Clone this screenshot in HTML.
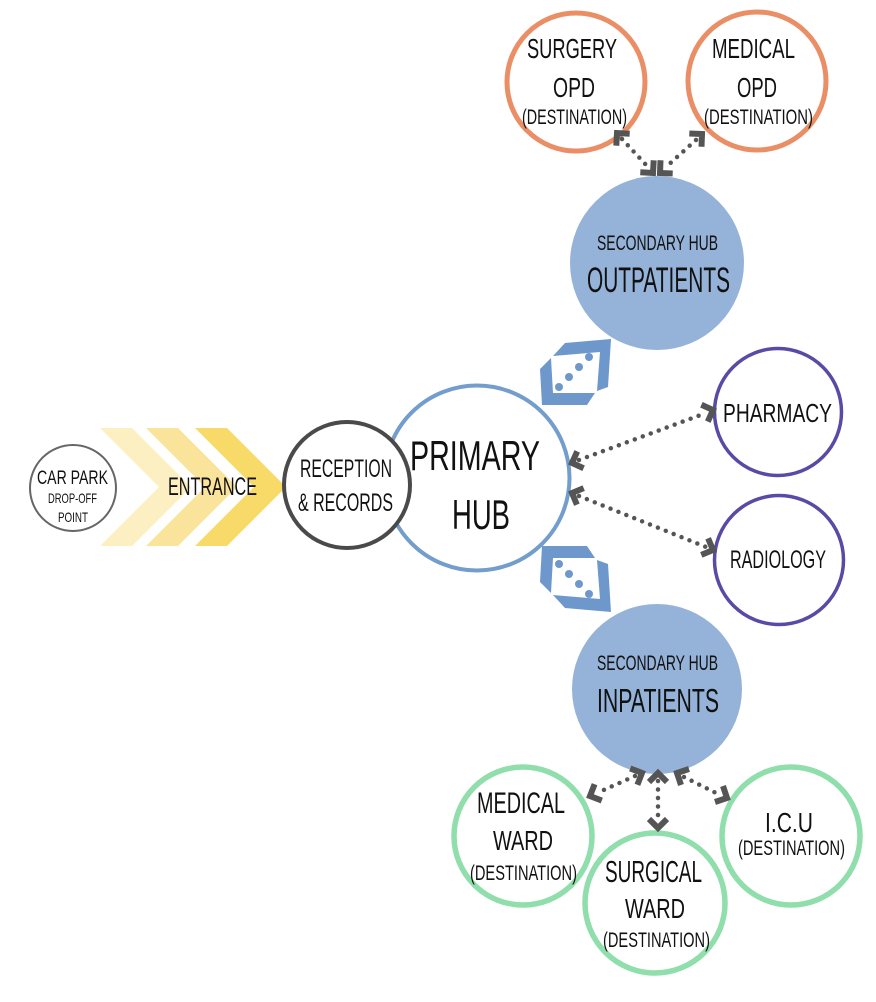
<!DOCTYPE html>
<html>
<head>
<meta charset="utf-8">
<style>
html,body{margin:0;padding:0;background:#fff;}
svg{display:block;}
text{font-family:"Liberation Sans Narrow","Liberation Sans",sans-serif;fill:#111;text-anchor:middle;}
</style>
</head>
<body>
<svg width="876" height="1002" viewBox="0 0 876 1002" xmlns="http://www.w3.org/2000/svg">
  <rect width="876" height="1002" fill="#fff"/>

  <!-- Entrance chevrons -->
  <polygon points="100,428 132,428 191,487 132,546 100,546 159,487" fill="#FCF0C2"/>
  <polygon points="146,428 178,428 237,487 178,546 146,546 205,487" fill="#FAE49C"/>
  <polygon points="195,428 227,428 286,487 227,546 195,546 254,487" fill="#F8DA69"/>

  <!-- Car park -->
  <circle cx="73" cy="488" r="43" fill="#fff" stroke="#666" stroke-width="2"/>

  <!-- Secondary hubs -->
  <circle cx="657" cy="263" r="87" fill="#95B3D8"/>
  <circle cx="657" cy="689" r="85" fill="#95B3D8"/>

  <!-- Primary hub -->
  <circle cx="477" cy="478" r="92.5" fill="#fff" stroke="#729DCC" stroke-width="4"/>
  <!-- Reception -->
  <circle cx="347" cy="485" r="63" fill="#fff" stroke="#4A4A4A" stroke-width="4"/>

  <!-- Blue connector icons -->
  <g>
    <polygon points="553,356 565,343 611,339 608,387 597,391 600,352" fill="#6E98CB"/>
    <polygon points="551,358 540,369 542,405 587,405 595,393 553,393" fill="#6E98CB"/>
    <circle cx="559" cy="387" r="4" fill="#6E98CB"/>
    <circle cx="569" cy="377" r="4" fill="#6E98CB"/>
    <circle cx="579" cy="367" r="4" fill="#6E98CB"/>
    <circle cx="589" cy="357" r="4" fill="#6E98CB"/>
  </g>
  <g transform="translate(0,951) scale(1,-1)">
    <polygon points="553,356 565,343 611,339 608,387 597,391 600,352" fill="#6E98CB"/>
    <polygon points="551,358 540,369 542,405 587,405 595,393 553,393" fill="#6E98CB"/>
    <circle cx="559" cy="387" r="4" fill="#6E98CB"/>
    <circle cx="569" cy="377" r="4" fill="#6E98CB"/>
    <circle cx="579" cy="367" r="4" fill="#6E98CB"/>
    <circle cx="589" cy="357" r="4" fill="#6E98CB"/>
  </g>

  <!-- Destination circles -->
  <circle cx="576" cy="82" r="69" fill="#fff" stroke="#EA8E66" stroke-width="5"/>
  <circle cx="757" cy="81" r="69" fill="#fff" stroke="#EA8E66" stroke-width="5"/>
  <circle cx="778" cy="412" r="63.5" fill="#fff" stroke="#5A4AA5" stroke-width="3.5"/>
  <circle cx="779" cy="560" r="64.5" fill="#fff" stroke="#5A4AA5" stroke-width="3.5"/>
  <circle cx="523" cy="836" r="69" fill="#fff" stroke="#90DEAB" stroke-width="5.5"/>
  <circle cx="791" cy="836" r="69" fill="#fff" stroke="#90DEAB" stroke-width="5.5"/>
  <circle cx="655" cy="903" r="70" fill="#fff" stroke="#90DEAB" stroke-width="5.5"/>

  <!-- Dotted connectors -->
  <g stroke="#555" stroke-width="4.5" stroke-linecap="round" stroke-dasharray="0 8.5" fill="none">
    <line x1="622" y1="139" x2="648" y2="167"/>
    <line x1="696" y1="140" x2="666" y2="167"/>
    <line x1="579" y1="460" x2="706" y2="413"/>
    <line x1="579" y1="496" x2="706" y2="547"/>
    <line x1="635" y1="776" x2="597" y2="793"/>
    <line x1="658" y1="781" x2="658" y2="821"/>
    <line x1="684" y1="777" x2="720" y2="795"/>
  </g>
  <!-- Arrowheads -->
  <g stroke="#555" stroke-width="6" fill="none" stroke-linejoin="miter" stroke-linecap="butt">
    <polyline points="629.7,133.7 617,133 616.3,145.7"/>
    <polyline points="653.7,160.3 653,173 640.3,172.3"/>
    <polyline points="701.5,146.7 702,134 689.3,133.5"/>
    <polyline points="672.7,173.5 660,173 660.5,160.3"/>
    <polyline points="583.6,468.2 572,463 577.2,451.4"/>
    <polyline points="707.8,421.6 713,410 701.4,404.8"/>
    <polyline points="583.7,488.1 572,493 576.9,504.7"/>
    <polyline points="708.1,538.3 713,550 701.3,554.9"/>
    <polyline points="637.4,784.8 642,773 630.2,768.4"/>
    <polyline points="601.8,800.6 590,796 594.6,784.2"/>
    <polyline points="649,782 658,773 667,782"/>
    <polyline points="649,819 658,828 667,819"/>
    <polyline points="689,769 677,773 681,785"/>
    <polyline points="723,786 727,798 715,802"/>
  </g>

  <!-- Text -->
  <text x="72.5" y="484" font-size="19.5" textLength="71" lengthAdjust="spacingAndGlyphs">CAR PARK</text>
  <text x="72.5" y="503" font-size="14" textLength="49" lengthAdjust="spacingAndGlyphs">DROP-OFF</text>
  <text x="73" y="522" font-size="14" textLength="30" lengthAdjust="spacingAndGlyphs">POINT</text>

  <text x="212.5" y="495" font-size="25" textLength="89" lengthAdjust="spacingAndGlyphs">ENTRANCE</text>

  <text x="346" y="477" font-size="25" textLength="92" lengthAdjust="spacingAndGlyphs">RECEPTION</text>
  <text x="345.5" y="511" font-size="25" textLength="95" lengthAdjust="spacingAndGlyphs">&amp; RECORDS</text>

  <text x="475" y="470" font-size="42" textLength="130" lengthAdjust="spacingAndGlyphs">PRIMARY</text>
  <text x="481" y="529" font-size="42" textLength="58" lengthAdjust="spacingAndGlyphs">HUB</text>

  <text x="657.5" y="250" font-size="21" textLength="121" lengthAdjust="spacingAndGlyphs">SECONDARY HUB</text>
  <text x="658.5" y="292" font-size="35" textLength="143" lengthAdjust="spacingAndGlyphs">OUTPATIENTS</text>

  <text x="657.5" y="670" font-size="21" textLength="121" lengthAdjust="spacingAndGlyphs">SECONDARY HUB</text>
  <text x="658" y="712" font-size="33" textLength="122" lengthAdjust="spacingAndGlyphs">INPATIENTS</text>

  <text x="777.5" y="422" font-size="26" textLength="109" lengthAdjust="spacingAndGlyphs">PHARMACY</text>
  <text x="778" y="568" font-size="25" textLength="96" lengthAdjust="spacingAndGlyphs">RADIOLOGY</text>

  <text x="572" y="58" font-size="28" textLength="90" lengthAdjust="spacingAndGlyphs">SURGERY</text>
  <text x="574" y="97" font-size="28" textLength="42" lengthAdjust="spacingAndGlyphs">OPD</text>
  <text x="574.5" y="124" font-size="21" textLength="105" lengthAdjust="spacingAndGlyphs">(DESTINATION)</text>

  <text x="753.5" y="58" font-size="28" textLength="83" lengthAdjust="spacingAndGlyphs">MEDICAL</text>
  <text x="757" y="97" font-size="28" textLength="40" lengthAdjust="spacingAndGlyphs">OPD</text>
  <text x="758.5" y="124" font-size="21" textLength="109" lengthAdjust="spacingAndGlyphs">(DESTINATION)</text>

  <text x="521" y="813" font-size="30" textLength="88" lengthAdjust="spacingAndGlyphs">MEDICAL</text>
  <text x="523" y="850" font-size="28" textLength="60" lengthAdjust="spacingAndGlyphs">WARD</text>
  <text x="523.5" y="880" font-size="21" textLength="107" lengthAdjust="spacingAndGlyphs">(DESTINATION)</text>

  <text x="653.5" y="882" font-size="31" textLength="97" lengthAdjust="spacingAndGlyphs">SURGICAL</text>
  <text x="655" y="918" font-size="28" textLength="60" lengthAdjust="spacingAndGlyphs">WARD</text>
  <text x="656.5" y="947" font-size="21" textLength="107" lengthAdjust="spacingAndGlyphs">(DESTINATION)</text>

  <text x="789" y="832" font-size="28" textLength="48" lengthAdjust="spacingAndGlyphs">I.C.U</text>
  <text x="791.5" y="855" font-size="21" textLength="107" lengthAdjust="spacingAndGlyphs">(DESTINATION)</text>
</svg>
</body>
</html>
